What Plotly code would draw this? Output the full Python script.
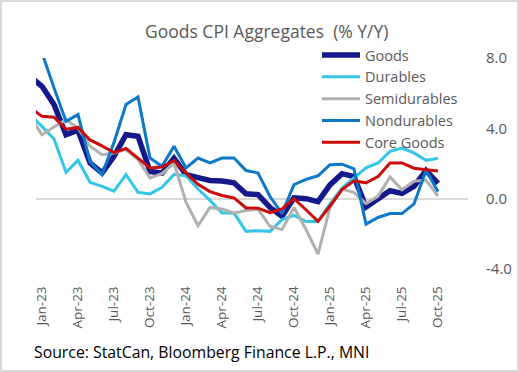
import plotly.graph_objects as go

months = ["Dec-22",
          "Jan-23", "Feb-23", "Mar-23", "Apr-23", "May-23", "Jun-23", "Jul-23", "Aug-23", "Sep-23", "Oct-23", "Nov-23", "Dec-23",
          "Jan-24", "Feb-24", "Mar-24", "Apr-24", "May-24", "Jun-24", "Jul-24", "Aug-24", "Sep-24", "Oct-24", "Nov-24", "Dec-24",
          "Jan-25", "Feb-25", "Mar-25", "Apr-25", "May-25", "Jun-25", "Jul-25", "Aug-25", "Sep-25", "Oct-25"]

goods = [6.95, 6.39, 5.35, 3.64, 3.89, 2.03, 1.46, 2.41, 3.64, 3.55, 1.55, 1.46, 2.30,
         1.37, 1.20, 1.03, 1.00, 0.90, 0.28, 0.23, -0.50, -1.00, 0.05, 0.00, -0.17,
         0.78, 1.42, 1.25, -0.48, -0.06, 0.45, 0.30, 0.70, 1.60, 0.87]
durables = [4.77, 4.11, 3.39, 1.50, 2.18, 0.93, 0.70, 0.42, 1.37, 0.36, 0.27, 0.65, 1.37,
            1.30, 0.55, -0.10, -0.82, -0.82, -1.86, -1.82, -1.86, -1.19, -0.95, -1.30, -1.30,
            -0.30, 0.60, 1.15, 1.75, 2.03, 2.69, 2.88, 2.60, 2.18, 2.29]
semidurables = [4.66, 3.64, 4.08, 4.49, 4.02, 2.98, 2.50, 2.60, 2.79, 2.22, 1.18, 1.42, 2.03,
                -0.20, -1.54, -0.50, -0.59, -0.82, -0.68, -0.60, -1.57, -1.76, -0.50, -1.75, -3.15,
                -0.50, 0.55, 0.35, -0.28, 0.13, 1.23, 0.51, 0.99, 1.06, 0.15]
nondurables = [9.50, 8.30, 6.30, 4.40, 4.78, 2.10, 1.37, 3.20, 5.35, 5.78, 2.31, 1.84, 2.98,
               1.75, 2.31, 2.03, 2.31, 2.31, 1.60, 1.46, 0.12, -0.85, 0.80, 1.10, 1.30,
               1.93, 1.96, 1.69, -1.45, -1.07, -0.85, -0.85, -0.30, 1.60, 0.40]
core_goods = [5.20, 4.68, 4.63, 3.95, 4.05, 3.34, 3.00, 2.62, 2.86, 2.31, 1.75, 1.80, 2.17,
              1.45, 0.82, 0.40, 0.18, 0.04, -0.53, -0.54, -0.80, -0.58, 0.00, -0.63, -1.29,
              -0.42, 0.52, 1.01, 0.90, 1.25, 2.03, 2.03, 1.73, 1.65, 1.57]

tick_labels = ["Jan-23", "Apr-23", "Jul-23", "Oct-23", "Jan-24", "Apr-24",
               "Jul-24", "Oct-24", "Jan-25", "Apr-25", "Jul-25", "Oct-25"]
y_ticks = [-4, 0, 4, 8]
y_ticktext = ["-4.0", "0.0", "4.0", "8.0"]

series = [
    ("Goods", goods, "#13198A", 5.5),
    ("Durables", durables, "#33C6EA", 3),
    ("Semidurables", semidurables, "#B0B0B0", 3),
    ("Nondurables", nondurables, "#0B78C8", 3),
    ("Core Goods", core_goods, "#CC0A0A", 3),
]

W, H = 519, 372
L, R, T, B = 36, 468, 58, 276
YMIN, YMAX = -4.4, 8.0
FONT = "Open Sans"
GRAY = "#595959"

def px_x(p):
    return (p - L) / (R - L)

def px_y(p):
    return (B - p) / (B - T)

fig = go.Figure()
for name, vals, color, width in series:
    fig.add_trace(go.Scatter(x=months, y=vals, mode="lines", name=name,
                             line=dict(color=color, width=width), hoverinfo="skip"))

boundaries = [0.5 + 3 * k for k in range(13)]
zero_pos = (0 - YMIN) / (YMAX - YMIN)

fig.update_layout(
    width=W, height=H,
    margin=dict(l=L, r=W - R, t=T, b=H - B, autoexpand=False),
    paper_bgcolor="white", plot_bgcolor="white",
    font=dict(family=FONT, color=GRAY, size=14),
    showlegend=True,
    legend=dict(x=px_x(317), y=px_y(39), xanchor="left", yanchor="top",
                bgcolor="rgba(0,0,0,0)", font=dict(size=14.5, color=GRAY, family=FONT),
                itemwidth=38, tracegroupgap=0),
    xaxis=dict(type="category", range=[0.5, 36.5], tickmode="array",
               tickvals=tick_labels, ticktext=tick_labels, tickangle=-90,
               ticks="outside", ticklen=4, tickcolor="rgba(0,0,0,0)",
               showline=False, showgrid=False, zeroline=False,
               tickfont=dict(size=13.5, color=GRAY, family=FONT)),
    xaxis2=dict(overlaying="x", anchor="free", position=zero_pos, type="linear",
                range=[0.5, 36.5], tickmode="array", tickvals=boundaries,
                ticks="outside", ticklen=5, tickwidth=2, tickcolor="#D9D9D9",
                showticklabels=False, showline=False, showgrid=False, zeroline=False),
    yaxis=dict(side="right", range=[YMIN, YMAX], tickmode="array",
               tickvals=y_ticks, ticktext=y_ticktext,
               ticks="outside", ticklen=14, tickcolor="rgba(0,0,0,0)",
               showgrid=False, showline=False,
               zeroline=True, zerolinecolor="#D9D9D9", zerolinewidth=2,
               tickfont=dict(size=15, color=GRAY, family=FONT)),
    annotations=[
        dict(text="Goods CPI Aggregates  (% Y/Y)", x=px_x(266), y=px_y(31),
             xref="paper", yref="paper", xanchor="center", yanchor="middle",
             showarrow=False, font=dict(size=17.5, color=GRAY, family=FONT)),
        dict(text="Source: StatCan, Bloomberg Finance L.P., MNI", x=px_x(32), y=px_y(352),
             xref="paper", yref="paper", xanchor="left", yanchor="middle",
             showarrow=False, font=dict(size=15.8, color="#000000", family=FONT)),
    ],
    shapes=[
        dict(type="rect", xref="paper", yref="paper",
             x0=px_x(1), x1=px_x(518), y0=px_y(371), y1=px_y(1),
             line=dict(color="#D9D9D9", width=2), fillcolor="rgba(0,0,0,0)"),
    ],
)

fig.write_html("out.html", config={"displayModeBar": False},
               post_script="document.body.style.margin='0';document.body.style.overflow='hidden';")
